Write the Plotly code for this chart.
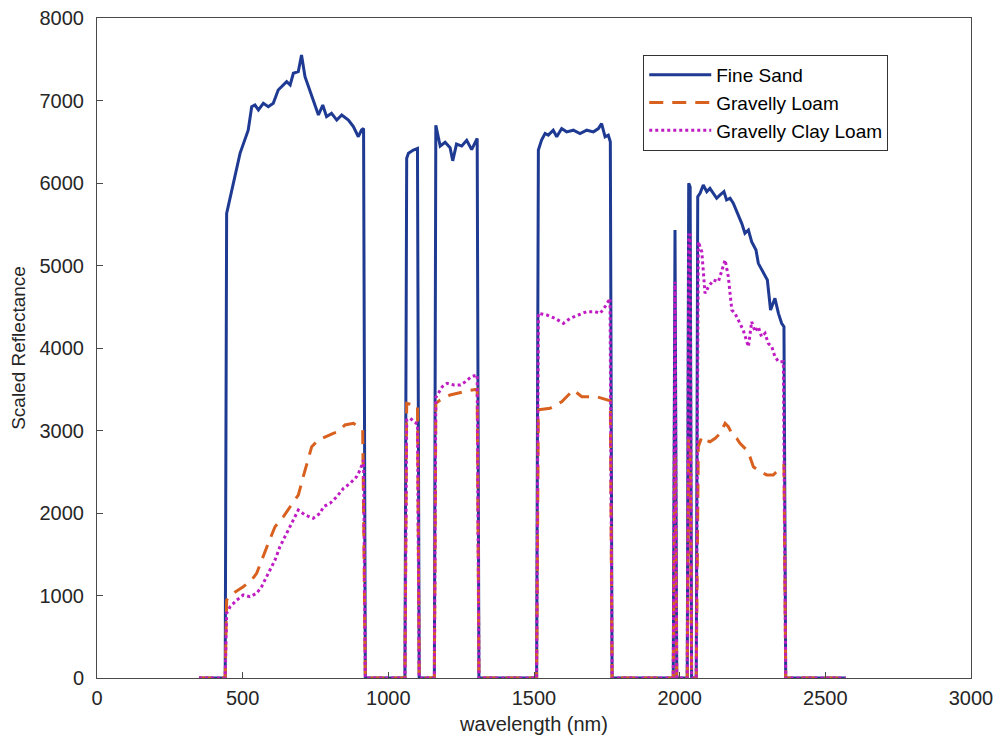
import plotly.graph_objects as go

# ---------------- data ----------------
fine_sand_wl = [350, 440, 445, 468, 491, 519, 531, 542, 554, 571, 588, 605, 622, 651, 663, 674, 691, 702, 714,
                742, 760, 775, 788, 805, 823, 840, 863, 880, 897, 908, 915, 921,
                1057, 1063, 1069, 1086, 1100, 1106,
                1158, 1163, 1178, 1195, 1212, 1221, 1234, 1252, 1269, 1286, 1305, 1311,
                1509, 1515, 1526, 1538, 1549, 1566, 1578, 1595, 1612, 1635, 1658, 1681, 1704, 1721, 1732, 1744,
                1755, 1762, 1768,
                1978, 1984, 1990,
                2026, 2031, 2036, 2041,
                2057, 2062, 2070, 2081, 2093, 2104, 2116, 2127, 2139, 2152, 2161, 2173, 2184, 2198, 2213, 2224,
                2236, 2247, 2262, 2270, 2287, 2301, 2312, 2327, 2339, 2350, 2358, 2364, 2570]
fine_sand_val = [0, 0, 5630, 6000, 6360, 6640, 6925, 6945, 6885, 6966, 6925, 6966, 7127, 7228, 7188, 7330, 7350, 7552, 7289,
                 7006, 6824, 6945, 6804, 6845, 6763, 6824, 6763, 6683, 6561, 6642, 6662, 0,
                 0, 6300, 6360, 6400, 6420, 0,
                 0, 6700, 6448, 6494, 6427, 6269, 6472, 6448, 6517, 6404, 6540, 0,
                 0, 6400, 6520, 6600, 6580, 6640, 6560, 6660, 6620, 6640, 6600, 6640, 6620, 6660, 6720, 6560,
                 6580, 6500, 0,
                 0, 5430, 0,
                 0, 5996, 5950, 0,
                 0, 5834, 5875, 5975, 5895, 5935, 5875, 5815, 5855, 5895, 5794, 5815, 5754, 5633, 5511, 5390,
                 5430, 5289, 5188, 5026, 4905, 4824, 4461, 4602, 4420, 4299, 4258, 0, 0]

gravelly_loam_wl = [350, 440, 445, 468, 502, 531, 548, 565, 588, 611, 640, 663, 691, 708, 720, 737, 760, 783, 811,
                    828, 851, 880, 897, 912, 921,
                    1057, 1063, 1080, 1100, 1106,
                    1158, 1163, 1178, 1212, 1240, 1270, 1305, 1311,
                    1509, 1515, 1555, 1595, 1635, 1664, 1715, 1755, 1762, 1768,
                    1978, 1984, 1990,
                    2026, 2031, 2036, 2041,
                    2057, 2064, 2076, 2087, 2104, 2122, 2139, 2156, 2167, 2179, 2196, 2207, 2230, 2241, 2253,
                    2276, 2299, 2321, 2339, 2350, 2358, 2364, 2570]
gravelly_loam_val = [0, 0, 945, 1027, 1107, 1188, 1269, 1430, 1633, 1834, 1955, 2076, 2218, 2440, 2602, 2804, 2885, 2925, 2966,
                     2986, 3067, 3087, 3046, 3006, 0,
                     0, 3330, 3320, 3300, 0,
                     0, 3330, 3370, 3430, 3458, 3480, 3500, 0,
                     0, 3250, 3269, 3349, 3491, 3410, 3410, 3370, 3360, 0,
                     0, 2700, 0,
                     0, 2900, 2900, 0,
                     0, 2804, 2925, 2885, 2864, 2905, 2966, 3087, 3046, 2966, 2905, 2845, 2764, 2683, 2561,
                     2501, 2461, 2461, 2521, 2561, 2582, 0, 0]

gravelly_clay_loam_wl = [350, 440, 445, 457, 480, 502, 525, 548, 565, 588, 611, 628, 651, 674, 691, 714, 742, 766, 777,
                         800, 823, 846, 869, 891, 903, 915, 921,
                         1057, 1063, 1075, 1090, 1100, 1106,
                         1158, 1163, 1185, 1202, 1225, 1248, 1265, 1285, 1305, 1311,
                         1509, 1515, 1544, 1572, 1601, 1624, 1652, 1681, 1710, 1727, 1744, 1761, 1768,
                         1978, 1984, 1990,
                         2026, 2031, 2036, 2041,
                         2057, 2064, 2076, 2087, 2099, 2116, 2133, 2144, 2156, 2167, 2179, 2190, 2201, 2218, 2236,
                         2247, 2259, 2270, 2281, 2293, 2304, 2316, 2327, 2339, 2356, 2364, 2570]
gravelly_clay_loam_val = [0, 0, 784, 864, 945, 1006, 985, 1027, 1107, 1269, 1430, 1592, 1754, 1915, 2036, 1976, 1936, 1996, 2076,
                          2117, 2198, 2299, 2360, 2440, 2521, 2642, 0,
                          0, 3127, 3150, 3100, 3080, 0,
                          0, 3400, 3531, 3572, 3552, 3552, 3592, 3652, 3673, 0,
                          0, 4420, 4400, 4360, 4299, 4360, 4400, 4440, 4440, 4420, 4500, 4602, 0,
                          0, 4804, 0,
                          0, 5370, 5370, 0,
                          0, 5289, 5167, 4663, 4743, 4824, 4804, 4945, 5067, 4864, 4461, 4420, 4339, 4218, 4016,
                          4319, 4198, 4258, 4137, 4178, 4057, 4016, 3895, 3834, 3834, 0, 0]

x_ticks = [0, 500, 1000, 1500, 2000, 2500, 3000]
y_ticks = [0, 1000, 2000, 3000, 4000, 5000, 6000, 7000, 8000]

# ---------------- figure ----------------
FONT = "Liberation Sans, Arial, sans-serif"
TXT = "#262626"

fig = go.Figure()
fig.add_trace(go.Scatter(x=fine_sand_wl, y=fine_sand_val, mode="lines", name="Fine Sand",
                         line=dict(color="#1f3a92", width=3)))
fig.add_trace(go.Scatter(x=gravelly_loam_wl, y=gravelly_loam_val, mode="lines", name="Gravelly Loam",
                         line=dict(color="#d9611f", width=3, dash="14px,9px")))
fig.add_trace(go.Scatter(x=gravelly_clay_loam_wl, y=gravelly_clay_loam_val, mode="lines", name="Gravelly Clay Loam",
                         line=dict(color="#c01cc4", width=3, dash="dot")))

axis_common = dict(showgrid=False, zeroline=False, showline=True, linecolor="#4a4a4a", linewidth=1,
                   mirror=True, ticks="inside", ticklen=6, tickcolor="#4a4a4a",
                   tickfont=dict(family=FONT, size=20, color=TXT))

fig.update_xaxes(range=[0, 3000], tickvals=x_ticks, ticktext=[str(v) for v in x_ticks],
                 title=dict(text="wavelength (nm)", font=dict(family=FONT, size=20, color=TXT), standoff=8),
                 ticklabelstandoff=2, **axis_common)
fig.update_yaxes(range=[0, 8000], tickvals=y_ticks, ticktext=[str(v) for v in y_ticks],
                 title=dict(text="Scaled Reflectance", font=dict(family=FONT, size=19, color=TXT), standoff=8),
                 ticklabelstandoff=8, **axis_common)

fig.update_layout(
    width=1000, height=744,
    margin=dict(l=97, r=29, t=18, b=66, autoexpand=False),
    paper_bgcolor="white", plot_bgcolor="white",
    showlegend=True,
    legend=dict(x=0.625, y=0.944, xanchor="left", yanchor="top",
                bgcolor="white", bordercolor="#333333", borderwidth=1,
                font=dict(family=FONT, size=19, color="black"),
                itemwidth=62, tracegroupgap=0),
)

fig.write_html("out.html")
